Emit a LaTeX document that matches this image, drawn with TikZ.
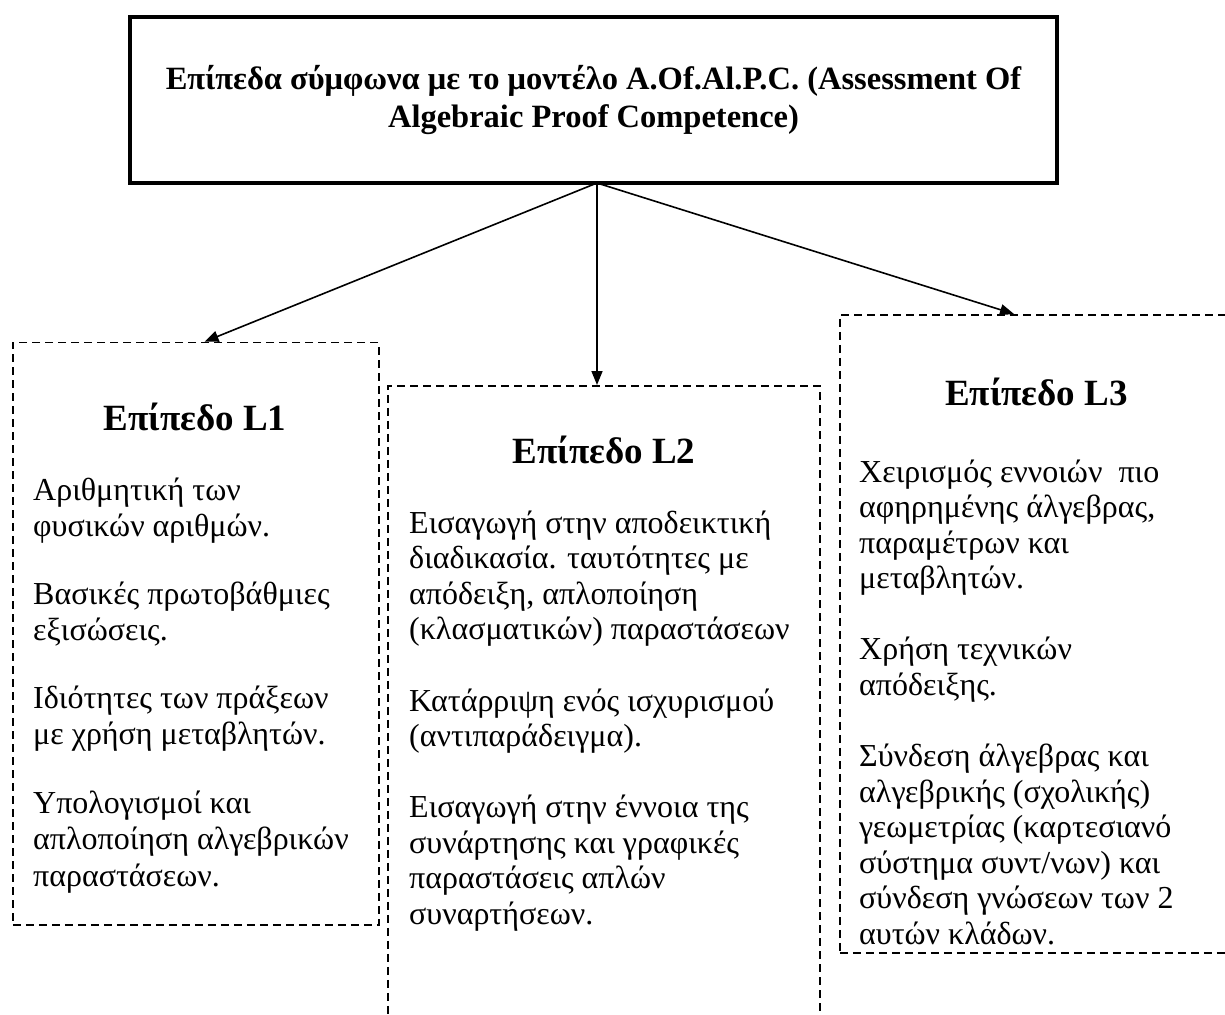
\documentclass[tikz,border=0pt]{standalone}
\usepackage{fontspec}
\setmainfont{Liberation Serif}
\usetikzlibrary{arrows.meta}
\newcommand\BodyLines[2]{\vtop{\baselineskip=#1\lineskiplimit=-100pt\lineskip=0pt #2}}
\begin{document}
\begin{tikzpicture}[x=1pt,y=-1pt,
  dbox/.style={draw,dash pattern=on 8pt off 5pt,line width=1.5pt,inner sep=0pt,anchor=north west},
  conn/.style={line width=1.6pt,-{Triangle[length=14pt,width=11pt]}},
  ttl/.style={font=\fontsize{37}{44}\selectfont\bfseries,anchor=base,inner sep=0pt},
  body/.style={anchor=base west,inner sep=0pt,font=\fontsize{32}{36}\selectfont}]
\useasboundingbox (0,0) rectangle (1225,1014);
\clip (0,0) rectangle (1225,1014);
% top box
\node[draw,line width=4pt,minimum width=927pt,minimum height=166pt,inner sep=0pt,
      align=center,font=\fontsize{32.5}{38}\selectfont\bfseries] (top) at (593.5,100)
  {Επίπεδα σύμφωνα με το μοντέλο A.Of.Al.P.C. (Assessment Of\\Algebraic Proof Competence)};
% dashed boxes
\node[dbox,minimum width=366pt,minimum height=582.3pt] (L1) at (12,341.7) {};
\node[dbox,minimum width=432pt,minimum height=700pt] (L2) at (387,385) {};
\node[dbox,minimum width=420pt,minimum height=638pt] (L3) at (839,314) {};
% titles
\node[ttl] (t1) at (195,430) {Επίπεδο L1};
\node[ttl] (t2) at (604,463) {Επίπεδο L2};
\node[ttl] (t3) at (1036.5,405) {Επίπεδο L3};
% bodies
\node[body] (b1) at (33,500) {\BodyLines{36.5pt}{%
  \hbox{Αριθμητική των}\hbox{φυσικών αριθμών.}\vskip31pt
  \hbox{Βασικές πρωτοβάθμιες}\hbox{εξισώσεις.}\vskip31pt
  \hbox{Ιδιότητες των πράξεων}\hbox{με χρήση μεταβλητών.}\vskip32pt
  \hbox{Υπολογισμοί και}\hbox{απλοποίηση αλγεβρικών}\hbox{παραστάσεων.}}};
\node[body] (b2) at (409,533) {\BodyLines{35.5pt}{%
  \hbox{Εισαγωγή στην αποδεικτική}\hbox{διαδικασία. ταυτότητες με}\hbox{απόδειξη, απλοποίηση}\hbox{(κλασματικών) παραστάσεων}\vskip36pt
  \hbox{Κατάρριψη ενός ισχυρισμού}\hbox{(αντιπαράδειγμα).}\vskip35.5pt
  \hbox{Εισαγωγή στην έννοια της}\hbox{συνάρτησης και γραφικές}\hbox{παραστάσεις απλών}\hbox{συναρτήσεων.}}};
\node[body] (b3) at (859,482) {\BodyLines{35.5pt}{%
  \hbox{Χειρισμός εννοιών\ \ πιο}\hbox{αφηρημένης άλγεβρας,}\hbox{παραμέτρων και}\hbox{μεταβλητών.}\vskip35.5pt
  \hbox{Χρήση τεχνικών}\hbox{απόδειξης.}\vskip36pt
  \hbox{Σύνδεση άλγεβρας και}\hbox{αλγεβρικής (σχολικής)}\hbox{γεωμετρίας (καρτεσιανό}\hbox{σύστημα συντ/νων) και}\hbox{σύνδεση γνώσεων των 2}\hbox{αυτών κλάδων.}}};
% connectors
\coordinate (src) at (597,183);
\coordinate (e1) at (204.5,341.7);
\coordinate (e2) at (597,385);
\coordinate (e3) at (1014,314);
\draw[conn] (src) -- (e1);
\draw[conn] (src) -- (e2);
\draw[conn] (src) -- (e3);
\end{tikzpicture}
\end{document}
